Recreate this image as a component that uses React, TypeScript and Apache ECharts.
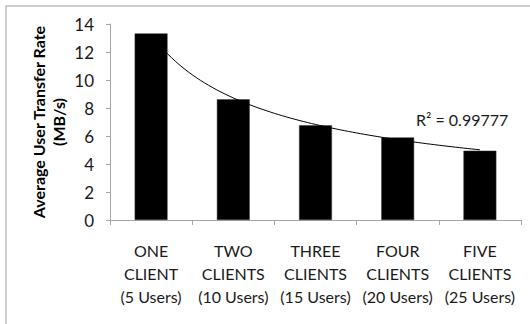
import React, { useEffect, useRef } from "react";
import * as echarts from "echarts";

// Client groups along the x axis
const categories = [
  "ONE\nCLIENT\n(5 Users)",
  "TWO\nCLIENTS\n(10 Users)",
  "THREE\nCLIENTS\n(15 Users)",
  "FOUR\nCLIENTS\n(20 Users)",
  "FIVE\nCLIENTS\n(25 Users)",
];

// Average user transfer rate per group, MB/s
const transferRates = [13.33, 8.62, 6.76, 5.9, 4.95];

// Y axis range
const yMin = 0;
const yMax = 14;
const yStep = 2;

const rSquaredLabel = "R² = 0.99777";
const yAxisTitle = "Average User Transfer Rate\n(MB/s)";

const FONT = "Lato, 'Open Sans', sans-serif";

// Power-law least-squares fit y = a * x^b over the bar values
function powerFit(values: number[]) {
  const n = values.length;
  const lx = values.map((_, i) => Math.log(i + 1));
  const ly = values.map((v) => Math.log(v));
  const mx = lx.reduce((s, v) => s + v, 0) / n;
  const my = ly.reduce((s, v) => s + v, 0) / n;
  let sxy = 0;
  let sxx = 0;
  for (let i = 0; i < n; i++) {
    sxy += (lx[i] - mx) * (ly[i] - my);
    sxx += (lx[i] - mx) * (lx[i] - mx);
  }
  const b = sxy / sxx;
  const a = Math.exp(my - b * mx);
  return { a, b };
}

export default function App() {
  const ref = useRef<HTMLDivElement>(null);

  useEffect(() => {
    if (!ref.current) return;
    const chart = echarts.init(ref.current, undefined, { renderer: "svg" });

    const { a, b } = powerFit(transferRates);
    const trend: number[][] = [];
    const steps = 80;
    for (let k = 0; k <= steps; k++) {
      const x = 1 + (4 * k) / steps;
      trend.push([x, a * Math.pow(x, b)]);
    }

    chart.setOption({
      animation: false,
      backgroundColor: "#ffffff",
      textStyle: { fontFamily: FONT },
      grid: { left: 110, top: 24, right: 9, bottom: 104 },
      xAxis: [
        {
          type: "category",
          data: categories,
          boundaryGap: true,
          axisLine: { lineStyle: { color: "#a6a6a6", width: 1 } },
          axisTick: { show: true, length: 5, lineStyle: { color: "#a6a6a6" } },
          axisLabel: {
            interval: 0,
            margin: 19,
            color: "#1a1a1a",
            fontSize: 16,
            lineHeight: 23,
            fontFamily: FONT,
          },
        },
        {
          type: "value",
          min: 0.5,
          max: 5.5,
          show: false,
        },
      ],
      yAxis: {
        type: "value",
        min: yMin,
        max: yMax,
        interval: yStep,
        splitLine: { show: false },
        axisLine: { show: true, lineStyle: { color: "#a6a6a6", width: 1 } },
        axisTick: { show: true, length: 4, lineStyle: { color: "#a6a6a6" } },
        axisLabel: {
          margin: 16,
          color: "#1a1a1a",
          fontSize: 17,
          fontFamily: FONT,
        },
      },
      series: [
        {
          type: "bar",
          data: transferRates,
          barWidth: "40%",
          itemStyle: { color: "#000000", borderColor: "#3a3a3a", borderWidth: 0.5 },
        },
        {
          type: "line",
          xAxisIndex: 1,
          data: trend,
          showSymbol: false,
          symbol: "none",
          lineStyle: { color: "#000000", width: 1 },
          z: 5,
        },
      ],
      graphic: [
        {
          type: "rect",
          shape: { x: 6, y: 6, width: 600, height: 400 },
          style: { fill: "none", stroke: "#bfbfbf", lineWidth: 1.5 },
          silent: true,
          z: -1,
        },
        {
          type: "text",
          x: 48,
          y: 122,
          rotation: Math.PI / 2,
          style: {
            text: yAxisTitle,
            fontFamily: FONT,
            fontSize: 16,
            fontWeight: "bold",
            fill: "#000000",
            align: "center",
            verticalAlign: "middle",
            lineHeight: 20,
          },
        },
        {
          type: "text",
          x: 416,
          y: 119,
          style: {
            text: rSquaredLabel,
            fontFamily: FONT,
            fontSize: 16,
            fill: "#1a1a1a",
            align: "left",
            verticalAlign: "middle",
          },
        },
      ],
    });

    return () => chart.dispose();
  }, []);

  return (
    <div
      ref={ref}
      style={{ position: "fixed", left: 0, top: 0, width: 530, height: 324 }}
    />
  );
}
